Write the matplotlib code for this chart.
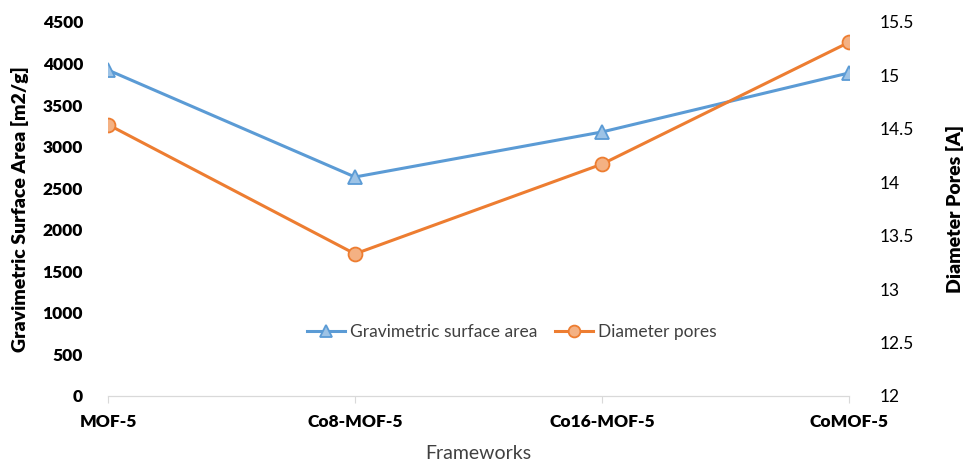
import matplotlib
matplotlib.use("Agg")
import matplotlib.pyplot as plt

categories = ["MOF-5", "Co8-MOF-5", "Co16-MOF-5", "CoMOF-5"]
surface_area = [3922, 2635, 3177, 3887]
diameter_pores = [14.54, 13.33, 14.17, 15.31]
left_ticks = [0, 500, 1000, 1500, 2000, 2500, 3000, 3500, 4000, 4500]
right_ticks = [12, 12.5, 13, 13.5, 14, 14.5, 15, 15.5]
right_tick_labels = ["12", "12.5", "13", "13.5", "14", "14.5", "15", "15.5"]

plt.rcParams['font.family'] = ['Lato', 'DejaVu Sans']

fig = plt.figure(figsize=(9.67, 4.62), dpi=100)
ax = fig.add_axes([108/967, 1-396/462, (849-108)/967, (396-22)/462])
ax2 = ax.twinx()

x = list(range(len(categories)))
l1, = ax.plot(x, surface_area, color="#5B9BD5", lw=2.2, marker="^", ms=10,
              mfc="#9DC3E6", mec="#5B9BD5", mew=1.3, label="Gravimetric surface area")
l2, = ax2.plot(x, diameter_pores, color="#ED7D31", lw=2.2, marker="o", ms=10,
               mfc="#F4B183", mec="#ED7D31", mew=1.3, label="Diameter pores")

ax.set_xlim(0, 3)
ax.set_ylim(0, 4500)
ax2.set_ylim(12, 15.5)
ax.set_yticks(left_ticks)
ax.set_yticklabels([str(t) for t in left_ticks], fontweight="heavy", fontsize=12.5)
ax2.set_yticks(right_ticks)
ax2.set_yticklabels(right_tick_labels, fontsize=12.5)
ax.set_xticks(x)
ax.set_xticklabels(categories, fontweight="heavy", fontsize=12.5)

for a in (ax, ax2):
    for s in ["top", "left", "right"]:
        a.spines[s].set_visible(False)
    a.spines["bottom"].set_color("#D9D9D9")
ax.tick_params(axis="y", length=0, pad=18)
ax2.tick_params(axis="y", length=0, pad=22)
ax.tick_params(axis="x", length=5, color="#D9D9D9", pad=8)

ax.set_xlabel("Frameworks", fontsize=14, color="#404040", labelpad=11)
ax.set_ylabel("Gravimetric Surface Area [m2/g]", fontsize=14, fontweight="heavy", labelpad=10)
ax2.set_ylabel("Diameter Pores [A]", fontsize=14, fontweight="heavy", rotation=90, labelpad=23)

leg = ax.legend(handles=[l1, l2], loc="center", bbox_to_anchor=(0.545, 0.171), ncol=2,
                frameon=False, fontsize=12.5, handlelength=2.2, columnspacing=1.0,
                handletextpad=0.3, markerscale=0.85)
for t in leg.get_texts():
    t.set_color("#404040")

fig.savefig("out.png", dpi=100)
